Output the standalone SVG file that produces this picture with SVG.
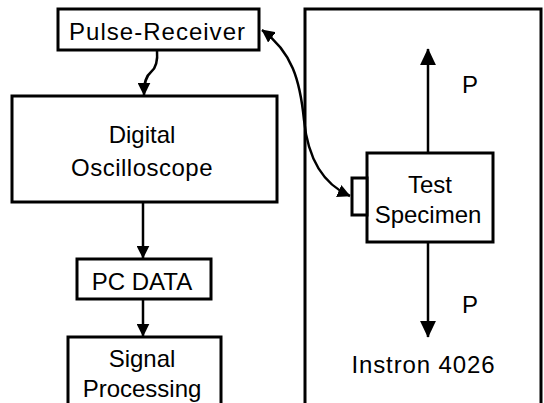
<svg xmlns="http://www.w3.org/2000/svg" width="544" height="403" viewBox="0 0 544 403">
<style>
.box{fill:#fff;stroke:#000;stroke-width:3}
.frame{fill:none;stroke:#000;stroke-width:3}
.t{font-family:"Liberation Sans",Arial,sans-serif;font-size:24px;fill:#000;text-anchor:middle}
.c{fill:none;stroke:#000;stroke-width:2.5}
</style>
<defs>
<marker id="a" markerUnits="userSpaceOnUse" viewBox="0 0 10 10" refX="9.5" refY="5" markerWidth="13" markerHeight="13" orient="auto-start-reverse"><path d="M0,0 L10,5 L0,10 z" fill="#000"/></marker>
<marker id="big" markerUnits="userSpaceOnUse" viewBox="0 0 10 10" refX="9.5" refY="5" markerWidth="17" markerHeight="16" orient="auto" preserveAspectRatio="none"><path d="M0,0 L10,5 L0,10 z" fill="#000"/></marker>
</defs>
<rect width="544" height="403" fill="#fff"/>
<g id="instron">
<rect class="frame" x="305" y="9" width="236" height="420"/>
<text class="t" x="423" y="373" textLength="143" lengthAdjust="spacing">Instron  4026</text>
<text class="t" x="470" y="93">P</text>
<text class="t" x="470" y="313">P</text>
</g>
<g id="pulse-receiver">
<rect class="box" x="58" y="9" width="201" height="41"/>
<text class="t" x="157" y="40" textLength="176" lengthAdjust="spacing">Pulse-Receiver</text>
</g>
<g id="oscilloscope">
<rect class="box" x="12" y="96" width="265" height="106"/>
<text class="t" x="142" y="143">Digital</text>
<text class="t" x="142" y="176" letter-spacing="0.5">Oscilloscope</text>
</g>
<g id="pc-data">
<rect class="box" x="77" y="259" width="134" height="40"/>
<text class="t" x="142" y="290">PC DATA</text>
</g>
<g id="signal-processing">
<rect class="box" x="68" y="337" width="153" height="90"/>
<text class="t" x="142" y="367">Signal</text>
<text class="t" x="142" y="397">Processing</text>
</g>
<g id="test-specimen">
<rect class="box" x="367" y="153" width="126" height="89"/>
<text class="t" x="430" y="193">Test</text>
<text class="t" x="428" y="223">Specimen</text>
</g>
<g id="sensor">
<rect class="box" x="352" y="178" width="15" height="37"/>
</g>
<g id="connectors">
<path class="c" d="M157,50 C158,62 156,68 151,72 C146,76 144,82 144,95" marker-end="url(#a)"/>
<path class="c" d="M143,202 L143,258" marker-end="url(#a)"/>
<path class="c" d="M143,299 L143,336" marker-end="url(#a)"/>
<path class="c" d="M262,30 C292,52 300,80 304,120 C308,160 325,185 350,196" marker-start="url(#a)" marker-end="url(#a)"/>
<path class="c" d="M428,153 L428,49" marker-end="url(#big)"/>
<path class="c" d="M428,242 L428,337" marker-end="url(#big)"/>
</g>
</svg>
